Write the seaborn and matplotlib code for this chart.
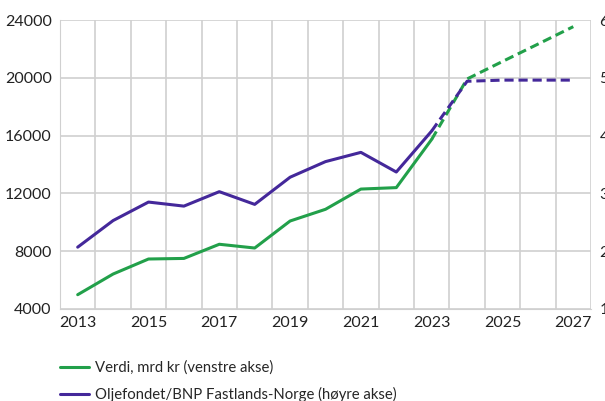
import numpy as np
import pandas as pd
import matplotlib
matplotlib.use("Agg")
import matplotlib.pyplot as plt
from matplotlib.ticker import MultipleLocator, FixedLocator
from matplotlib.lines import Line2D
import seaborn as sns

years = list(range(2013, 2028))
verdi = [4990, 6420, 7460, 7500, 8480, 8220, 10090, 10900, 12300, 12400,
         15740, 19920, 21130, 22330, 23540]
andel = [2.07, 2.53, 2.85, 2.78, 3.03, 2.81, 3.28, 3.55, 3.71, 3.37,
         4.08, 4.94, 4.96, 4.96, 4.96]
last_actual = 2023

green = "#22a04a"
purple = "#44289a"
grid_c = "#d0d0d0"

df = pd.DataFrame({"year": years, "verdi": verdi, "andel": andel})
hist = df[df["year"] <= last_actual]
proj = df[df["year"] >= last_actual]

sns.set_style("white")
plt.rcParams["font.family"] = ["Lato", "DejaVu Sans"]

fig = plt.figure(figsize=(6.05, 4.01), dpi=100)
ax = fig.add_axes([60 / 605, 1 - 309 / 401, 531 / 605, 289 / 401])
ax2 = ax.twinx()

sns.lineplot(data=hist, x="year", y="verdi", ax=ax, color=green, lw=2.2)
sns.lineplot(data=proj, x="year", y="verdi", ax=ax, color=green, lw=2.2,
             linestyle=(0, (3, 1.6)))
sns.lineplot(data=hist, x="year", y="andel", ax=ax2, color=purple, lw=2.2)
sns.lineplot(data=proj, x="year", y="andel", ax=ax2, color=purple, lw=2.2,
             linestyle=(0, (3, 1.6)))

ax.set_xlim(2012.5, 2027.5)
ax.set_ylim(4000, 24000)
ax2.set_ylim(1, 6)
ax.yaxis.set_major_locator(MultipleLocator(4000))
ax2.yaxis.set_major_locator(MultipleLocator(1))
ax.xaxis.set_major_locator(FixedLocator(years[::2]))
ax.xaxis.set_minor_locator(MultipleLocator(1, offset=0.5))

ax.grid(False)
ax2.grid(False)
ax.grid(True, which="minor", axis="x", color=grid_c, lw=1.2)
ax.grid(True, which="major", axis="y", color=grid_c, lw=1.2)

for a in (ax, ax2):
    for s in a.spines.values():
        s.set_visible(False)
ax.spines["left"].set_visible(True)
ax.spines["left"].set_color(grid_c)
ax.spines["bottom"].set_visible(True)
ax.spines["bottom"].set_color(grid_c)

ax.tick_params(axis="both", which="both", length=0, labelsize=11.5,
               colors="#222222")
ax.tick_params(axis="y", pad=6)
ax.tick_params(axis="x", pad=5)
ax2.tick_params(axis="y", length=0, labelsize=11.5, colors="#222222", pad=6)
ax.set_xlabel("")
ax.set_ylabel("")
ax2.set_ylabel("")

handles = [Line2D([], [], color=green, lw=2.2),
           Line2D([], [], color=purple, lw=2.2)]
labels = ["Verdi, mrd kr (venstre akse)",
          "Oljefondet/BNP Fastlands-Norge (høyre akse)"]
fig.legend(handles, labels, loc="upper left", bbox_to_anchor=(47 / 605, 1 - 347 / 401),
           frameon=False, fontsize=10.7, handlelength=1.9, handletextpad=0.45,
           labelspacing=0.85)

fig.savefig("out.png", dpi=100)
